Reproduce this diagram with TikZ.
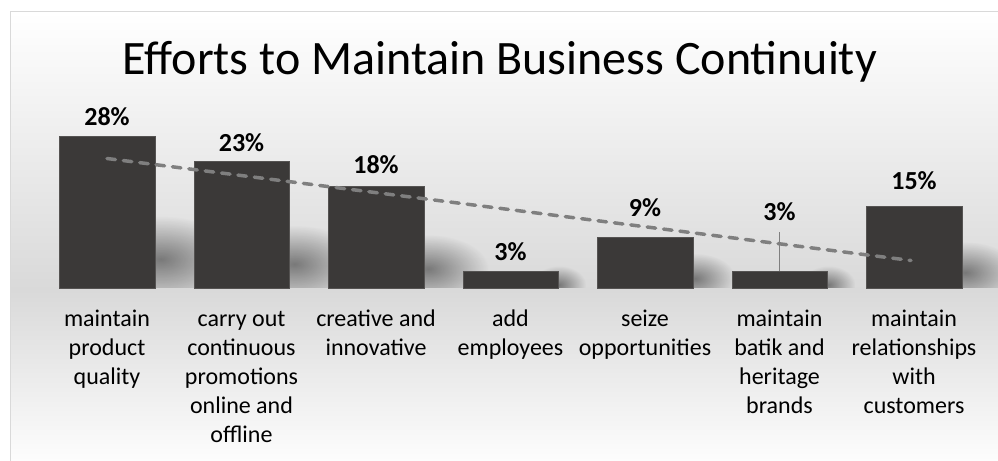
\documentclass[tikz,border=0pt]{standalone}
\usepackage{fontspec}
\setmainfont{Carlito}
\usetikzlibrary{fadings}
\definecolor{barfill}{HTML}{3B3938}
\definecolor{baredge}{HTML}{555352}
\definecolor{trend}{HTML}{7F7F7F}
\definecolor{bgmid}{HTML}{D9D9D9}
\definecolor{framec}{HTML}{D9D9D9}
\tikzfading[name=softblob, inner color=transparent!0, outer color=transparent!100]
\tikzset{
  barbox/.style={fill=barfill, draw=baredge, line width=0.5bp, minimum width=95.5bp, inner sep=0pt, outer sep=0pt, anchor=south},
  pct/.style={font=\bfseries\fontsize{26bp}{30bp}\selectfont, anchor=base, inner sep=0pt},
  cat/.style={font=\fontsize{24bp}{29bp}\selectfont, anchor=base, inner sep=0pt},
  ttl/.style={font=\fontsize{48bp}{54bp}\selectfont, anchor=base, inner sep=0pt},
  trendline/.style={draw=trend, line width=3.5bp, line cap=round, dash pattern=on 8.5bp off 8bp},
  errbar/.style={draw=trend, line width=1bp},
  softshadow/.style={fill=black, fill opacity=0.45, path fading=softblob}
}
\newcommand{\catlines}[1]{\parbox[t]{140bp}{\centering #1}}
\begin{document}
\begin{tikzpicture}[x=1bp,y=-1bp]
\useasboundingbox (0,0) rectangle (998,461);
% chart area background
\shade[top color=white, bottom color=bgmid] (10,11.5) rectangle (1010,290);
\shade[top color=bgmid, bottom color=white] (10,290) rectangle (1010,470);
\draw[framec, line width=1bp] (1010,11.5) -- (10,11.5) -- (10,470);
% soft shadows
\begin{scope}
\clip (0,0) rectangle (998,287.5);
\foreach \xb/\t in {154.7/136, 289.3/161.3, 424/186.7, 558.3/271, 693/237.3, 827.7/271, 962/206}{
  \pgfmathsetmacro{\h}{288-\t}
  \pgfmathsetmacro{\cx}{\xb+0.04*\h}
  \pgfmathsetmacro{\cy}{288-0.19*\h}
  \pgfmathsetmacro{\rx}{2*(0.2*\h+10)}
  \pgfmathsetmacro{\ry}{2*(0.09*\h+8)}
  \path[softshadow] (\cx-\rx,\cy-\ry) rectangle (\cx+\rx,\cy+\ry);
}
\end{scope}
% bars
\node[barbox, minimum height=152bp] (b1) at (107,288) {};
\node[barbox, minimum height=126.7bp] (b2) at (241.5,288) {};
\node[barbox, minimum height=101.3bp] (b3) at (376,288) {};
\node[barbox, minimum height=17bp] (b4) at (510.5,288) {};
\node[barbox, minimum height=50.7bp] (b5) at (645,288) {};
\node[barbox, minimum height=17bp] (b6) at (779.5,288) {};
\node[barbox, minimum height=82bp] (b7) at (914,288) {};
% error bar
\coordinate (e6) at (779.5,232);
\draw[errbar] (b6.north) -- (e6);
% trend line
\coordinate (t1) at (107,158.5);
\coordinate (t7) at (911,260.5);
\draw[trendline] (t1) -- (t7);
% value labels
\node[pct] (p1) at (107,125.5) {28\%};
\node[pct] (p2) at (241.5,151.5) {23\%};
\node[pct] (p3) at (376,174) {18\%};
\node[pct] (p4) at (510.5,260.5) {3\%};
\node[pct] (p5) at (645,216.5) {9\%};
\node[pct] (p6) at (779.5,221) {3\%};
\node[pct] (p7) at (914,190) {15\%};
% category labels
\node[cat] (c1) at (107,327) {\catlines{maintain\\product\\quality}};
\node[cat] (c2) at (241.5,327) {\catlines{carry out\\continuous\\promotions\\online and\\offline}};
\node[cat] (c3) at (376,327) {\catlines{creative and\\innovative}};
\node[cat] (c4) at (510.5,327) {\catlines{add\\employees}};
\node[cat] (c5) at (645,327) {\catlines{seize\\opportunities}};
\node[cat] (c6) at (779.5,327) {\catlines{maintain\\batik and\\heritage\\brands}};
\node[cat] (c7) at (914,327) {\catlines{maintain\\relationships\\with\\customers}};
% title
\node[ttl] (title) at (500,75) {Efforts to Maintain Business Continuity};
\end{tikzpicture}
\end{document}
